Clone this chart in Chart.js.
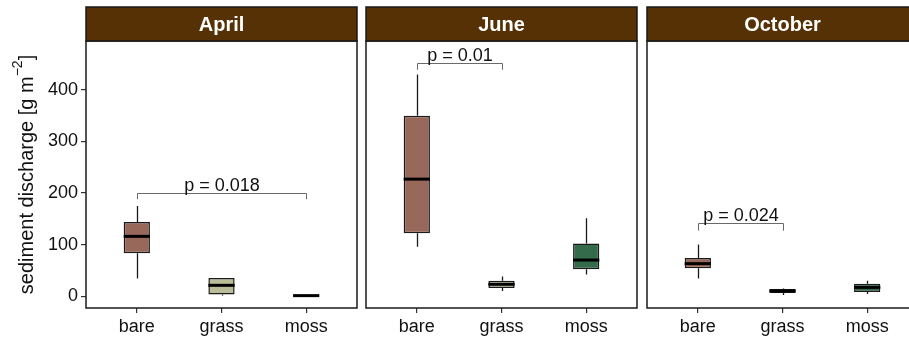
<!DOCTYPE html>
<html>
<head>
<meta charset="utf-8">
<script src="https://cdn.jsdelivr.net/npm/chart.js@4.4.0/dist/chart.umd.min.js"></script>
<style>
  body { margin: 0; background: #fff; overflow: hidden; }
  #wrap { position: relative; width: 909px; height: 338px; overflow: hidden; }
  canvas { position: absolute; top: 0; }
</style>
</head>
<body>
<div id="wrap">
  <canvas id="p0"></canvas>
  <canvas id="p1"></canvas>
  <canvas id="p2"></canvas>
</div>
<script>
const months = ['April', 'June', 'October'];
const categories = ['bare', 'grass', 'moss'];
const boxColors = ['#98685a', '#bbbd98', '#336b4b'];
const yTicks = [0, 100, 200, 300, 400];

// box summaries per month (rows) in category order (columns)
const whiskerLow = [[34, 1, 0], [96, 10, 42], [34, 2, 4]];
const lowerQuartile = [[83, 3, 0], [122, 16, 52], [54, 6, 8]];
const medians = [[116, 21, 1], [227, 23, 70], [63, 10, 17]];
const upperQuartile = [[144, 35, 2], [350, 30, 102], [74, 14, 24]];
const whiskerHigh = [[175, 35, 3], [430, 38, 151], [100, 15, 30]];

// significance brackets, one per month
const bracketFrom = [1, 1, 1];
const bracketTo = [3, 2, 2];
const bracketLevel = [200, 453, 142];
const bracketTip = [188, 439, 127];
const pLabels = ['p = 0.018', 'p = 0.01', 'p = 0.024'];

const FONT = "'Liberation Sans', Arial, sans-serif";
const panelLeft = [86, 366, 647];
const panelWidth = 271;

// whiskers, medians, brackets, strip and border for one facet
function facetPlugin(i) {
  return {
    id: 'facet' + i,
    beforeDatasetsDraw(chart) {
      const { ctx, scales: { x, y } } = chart;
      ctx.save();
      ctx.strokeStyle = '#1a1a1a';
      ctx.lineWidth = 1.3;
      categories.forEach((c, k) => {
        const px = Math.round(x.getPixelForValue(k + 1)) + 0.5;
        ctx.beginPath();
        ctx.moveTo(px, y.getPixelForValue(whiskerLow[i][k]));
        ctx.lineTo(px, y.getPixelForValue(lowerQuartile[i][k]));
        ctx.moveTo(px, y.getPixelForValue(upperQuartile[i][k]));
        ctx.lineTo(px, y.getPixelForValue(whiskerHigh[i][k]));
        ctx.stroke();
      });
      ctx.restore();
    },
    afterDatasetsDraw(chart) {
      const { ctx, chartArea: area, scales: { x, y } } = chart;
      const bars = chart.getDatasetMeta(0).data;
      ctx.save();
      // medians
      ctx.strokeStyle = '#000';
      ctx.lineWidth = 3;
      categories.forEach((c, k) => {
        const b = bars[k];
        const py = y.getPixelForValue(medians[i][k]);
        ctx.beginPath();
        ctx.moveTo(b.x - b.width / 2, py);
        ctx.lineTo(b.x + b.width / 2, py);
        ctx.stroke();
      });
      // bracket
      const x1 = Math.round(x.getPixelForValue(bracketFrom[i])) + 0.5;
      const x2 = Math.round(x.getPixelForValue(bracketTo[i])) + 0.5;
      const by = Math.round(y.getPixelForValue(bracketLevel[i])) + 0.5;
      const ty = y.getPixelForValue(bracketTip[i]);
      ctx.strokeStyle = '#6a6a6a';
      ctx.lineWidth = 1;
      ctx.beginPath();
      ctx.moveTo(x1, ty);
      ctx.lineTo(x1, by);
      ctx.lineTo(x2, by);
      ctx.lineTo(x2, ty);
      ctx.stroke();
      ctx.fillStyle = '#111';
      ctx.font = '18px ' + FONT;
      ctx.textAlign = 'center';
      ctx.textBaseline = 'alphabetic';
      ctx.fillText(pLabels[i], (x1 + x2) / 2, by - 3);
      // panel border
      ctx.strokeStyle = '#1a1a1a';
      ctx.lineWidth = 1.5;
      ctx.strokeRect(area.left, area.top, area.right - area.left, area.bottom - area.top);
      // strip
      ctx.fillStyle = '#553105';
      ctx.fillRect(area.left, 7, area.right - area.left, area.top - 7);
      ctx.strokeRect(area.left, 7, area.right - area.left, area.top - 7);
      ctx.fillStyle = '#fff';
      ctx.font = 'bold 20px ' + FONT;
      ctx.textBaseline = 'middle';
      ctx.fillText(months[i], (area.left + area.right) / 2, 25);
      // y axis title on the first facet
      if (i === 0) {
        const cy = (area.top + area.bottom) / 2;
        const main = 'sediment discharge [g m';
        const sup = '\u22122';
        ctx.translate(27, cy);
        ctx.rotate(-Math.PI / 2);
        ctx.fillStyle = '#111';
        ctx.font = '20px ' + FONT;
        const wMain = ctx.measureText(main).width;
        const wEnd = ctx.measureText(']').width;
        ctx.font = '14px ' + FONT;
        const wSup = ctx.measureText(sup).width;
        let sx = -(wMain + wSup + wEnd) / 2;
        ctx.textAlign = 'left';
        ctx.textBaseline = 'middle';
        ctx.font = '20px ' + FONT;
        ctx.fillText(main, sx, 0);
        sx += wMain;
        ctx.font = '14px ' + FONT;
        ctx.fillText(sup, sx, -9);
        sx += wSup;
        ctx.font = '20px ' + FONT;
        ctx.fillText(']', sx, 0);
      }
      ctx.restore();
    }
  };
}

function makePanel(i) {
  const canvas = document.getElementById('p' + i);
  const first = i === 0;
  const left = first ? 0 : panelLeft[i] - 4;
  canvas.width = panelLeft[i] + panelWidth + 4 - left;
  canvas.height = 338;
  canvas.style.left = left + 'px';

  new Chart(canvas, {
    type: 'bar',
    data: {
      datasets: [{
        data: categories.map((c, k) => ({ x: k + 1, y: [lowerQuartile[i][k], upperQuartile[i][k]] })),
        backgroundColor: boxColors,
        borderColor: '#1a1a1a',
        borderWidth: 1.5,
        borderSkipped: false,
        barPercentage: 0.31,
        categoryPercentage: 1
      }]
    },
    options: {
      responsive: false,
      animation: false,
      devicePixelRatio: 1,
      layout: { padding: { top: 41, left: first ? 0 : 4, right: 4, bottom: 0 } },
      plugins: { legend: { display: false }, tooltip: { enabled: false } },
      scales: {
        x: {
          type: 'linear',
          min: 0.4,
          max: 3.6,
          offset: false,
          afterBuildTicks: s => { s.ticks = categories.map((c, k) => ({ value: k + 1 })); },
          afterFit: s => { s.height = 30; },
          ticks: {
            callback: v => categories[Math.round(v) - 1],
            color: '#111',
            padding: 3,
            font: { family: FONT, size: 18 },
            maxRotation: 0
          },
          grid: { offset: false, drawOnChartArea: false, tickLength: 5, color: '#333', lineWidth: 1.2 },
          border: { display: false }
        },
        y: {
          display: first,
          min: -23,
          max: 495,
          afterBuildTicks: s => { s.ticks = yTicks.map(v => ({ value: v })); },
          afterFit: s => { if (first) s.width = 86; },
          ticks: {
            color: '#111',
            padding: 3,
            font: { family: FONT, size: 18 }
          },
          grid: { drawOnChartArea: false, tickLength: 5, color: '#333', lineWidth: 1.2 },
          border: { display: false }
        }
      }
    },
    plugins: [facetPlugin(i)]
  });
}

months.forEach((m, i) => makePanel(i));
</script>
</body>
</html>
